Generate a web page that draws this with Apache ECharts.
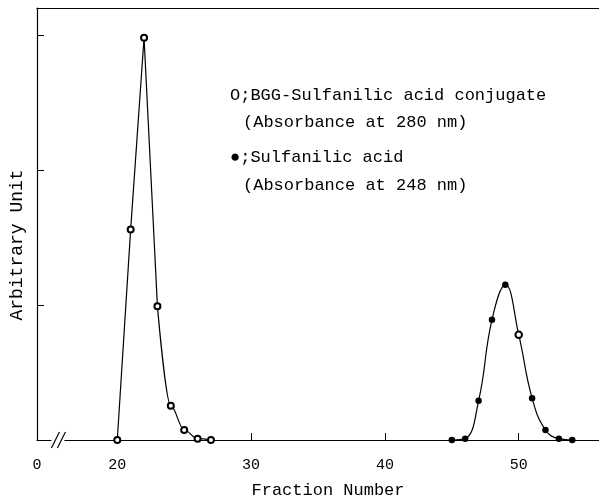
<!DOCTYPE html>
<html>
<head>
<meta charset="utf-8">
<script src="https://cdn.jsdelivr.net/npm/echarts@6/dist/echarts.min.js"></script>
<style>
  html, body { margin: 0; padding: 0; background: #fff; }
  #chart { width: 599px; height: 502px; }
</style>
</head>
<body>
<div id="chart"></div>
<script>
// fraction numbers and readings, picked off the figure
var conjX = [20, 21, 22, 23, 24, 25, 26, 27];
var conjY = [0, 1.56, 2.98, 0.99, 0.254, 0.074, 0.01, 0];
var sulfX = [45, 46, 47, 48, 49, 50, 51, 52, 53, 54];
var sulfY = [0, 0.01, 0.29, 0.89, 1.15, 0.78, 0.31, 0.074, 0.01, 0];
var xLabels = [14, 20, 30, 40, 50];   // 14 is the left edge, shown as "0" (broken axis)
var xTicks = [30, 40, 50];
var yTicks = [1, 2, 3];

var FONT = '"Liberation Mono", "DejaVu Sans Mono", monospace';

function pairs(xs, ys) {
    return xs.map(function (x, i) { return [x, ys[i]]; });
}
var conj = pairs(conjX, conjY);
// straight rise up to the peak and down to fraction 23, smooth tail after that
var conjRise = conj.slice(0, 4);
var conjTail = conj.slice(3).map(function (p, i) {
    return i === 0 ? { value: p, symbol: 'none' } : p;
});
var sulf = pairs(sulfX, sulfY).map(function (p) {
    // the point at fraction 50 is printed hollow in the original
    if (p[0] === 50) return { value: p, symbol: 'emptyCircle' };
    return p;
});

var chart = echarts.init(document.getElementById('chart'));
chart.setOption({
    animation: false,
    backgroundColor: '#fff',
    grid: { left: 37, top: 8, right: 0, bottom: 62 },
    xAxis: [
        {
            type: 'value',
            min: 14,
            max: 56,
            splitLine: { show: false },
            axisLine: { lineStyle: { color: '#000', width: 1.2 } },
            axisTick: { customValues: xTicks, inside: true, length: 7, lineStyle: { color: '#000' } },
            axisLabel: {
                customValues: xLabels,
                margin: 18,
                color: '#000',
                fontFamily: FONT,
                fontSize: 15,
                formatter: function (v) { return v === 14 ? '0' : String(v); }
            }
        },
        {
            type: 'value',
            position: 'top',
            min: 14,
            max: 56,
            splitLine: { show: false },
            axisLine: { show: true, lineStyle: { color: '#000', width: 1.2 } },
            axisTick: { show: false },
            axisLabel: { show: false }
        }
    ],
    yAxis: {
        type: 'value',
        min: 0,
        max: 3.2,
        splitLine: { show: false },
        axisLine: { show: true, lineStyle: { color: '#000', width: 1.2 } },
        axisTick: { customValues: yTicks, inside: true, length: 7, lineStyle: { color: '#000' } },
        axisLabel: { show: false }
    },
    series: [
        {
            name: 'rise',
            type: 'line',
            data: conjRise,
            symbol: 'emptyCircle',
            symbolSize: 6,
            lineStyle: { color: '#000', width: 1.2 },
            itemStyle: { color: '#000', borderWidth: 1 },
            z: 3
        },
        {
            name: 'tail',
            type: 'line',
            data: conjTail,
            smooth: 0.35,
            smoothMonotone: 'x',
            symbol: 'emptyCircle',
            symbolSize: 6,
            lineStyle: { color: '#000', width: 1.2 },
            itemStyle: { color: '#000', borderWidth: 1 },
            z: 3
        },
        {
            name: 'Sulfanilic acid',
            type: 'line',
            data: sulf,
            smooth: 0.45,
            symbol: 'circle',
            symbolSize: 6.5,
            lineStyle: { color: '#000', width: 1.2 },
            itemStyle: { color: '#000', borderWidth: 1 },
            z: 3
        }
    ]
});

// axis break mark, anchored to the axis
var bp = chart.convertToPixel({ xAxisIndex: 0, yAxisIndex: 0 }, [15.6, 0]);
var slash = function (dx) {
    return {
        type: 'line',
        shape: { x1: bp[0] + dx - 4, y1: bp[1] + 8, x2: bp[0] + dx + 4, y2: bp[1] - 8 },
        style: { stroke: '#000', lineWidth: 1.2 },
        z: 10
    };
};

chart.setOption({
    graphic: [
        { type: 'rect', shape: { x: bp[0] - 7, y: bp[1] - 1.5, width: 13, height: 3 }, style: { fill: '#fff' }, z: 9 },
        slash(-3),
        slash(3),
        {
            type: 'text', left: 230, top: 87,
            style: { text: 'O;BGG-Sulfanilic acid conjugate', font: '17px ' + FONT, fill: '#000' }
        },
        {
            type: 'text', left: 243, top: 114,
            style: { text: '(Absorbance at 280 nm)', font: '17px ' + FONT, fill: '#000' }
        },
        {
            type: 'text', left: 230, top: 149,
            style: { text: '●;Sulfanilic acid', font: '17px ' + FONT, fill: '#000' }
        },
        {
            type: 'text', left: 243, top: 177,
            style: { text: '(Absorbance at 248 nm)', font: '17px ' + FONT, fill: '#000' }
        },
        {
            type: 'text', x: 328, y: 490,
            style: { text: 'Fraction Number', font: '17px ' + FONT, fill: '#000', align: 'center', verticalAlign: 'middle' }
        },
        {
            type: 'text', x: 17, y: 245, rotation: Math.PI / 2,
            style: { text: 'Arbitrary Unit', font: '18px ' + FONT, fill: '#000', align: 'center', verticalAlign: 'middle' }
        }
    ]
});
</script>
</body>
</html>
